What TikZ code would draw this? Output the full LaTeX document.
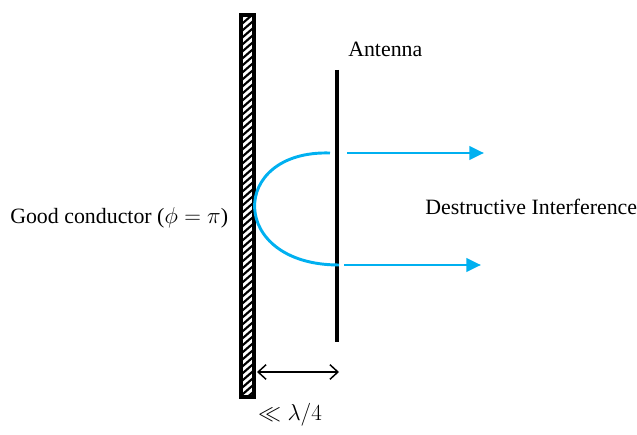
\documentclass[tikz,border=0pt]{standalone}
\usepackage{fontspec}
\setmainfont{Liberation Serif}
\usetikzlibrary{arrows.meta}
\definecolor{wave}{RGB}{0,176,240}
\tikzset{
  wavearrow/.style={wave,line width=2.2pt,-{Triangle[length=11pt,width=10pt]}},
  wavecurve/.style={wave,line width=2.2pt},
  lbl/.style={font=\fontsize{16.4}{19}\selectfont,inner sep=0pt}
}
\begin{document}
\begin{tikzpicture}[x=0.75pt,y=-0.75pt]
	\useasboundingbox (0,0) rectangle (637,435);
	% conductor plate with hatching
	\begin{scope}
		\clip (241,15) rectangle (254,397);
		\foreach \k in {0,7,...,400}
			\draw[line width=1.6pt] (236,22+\k) -- (259,2+\k);
	\end{scope}
	\draw[line width=2.6pt] (241,15) rectangle (254,397);
	% antenna
	\coordinate (antTop) at (337,70);
	\coordinate (antBot) at (337,342);
	\draw[line width=2.4pt] (antTop) -- (antBot);
	% waves
	\coordinate (upIn) at (330,153);
	\coordinate (loIn) at (339,265);
	\draw[wavecurve] (upIn) .. controls (228,150) and (228,265) .. (loIn);
	\coordinate (upS) at (347,153);
	\coordinate (upE) at (484,153);
	\coordinate (loS) at (344,265);
	\coordinate (loE) at (481,265);
	\draw[wavearrow] (upS) -- (upE);
	\draw[wavearrow] (loS) -- (loE);
	% spacing
	\coordinate (gapL) at (257,372);
	\coordinate (gapR) at (339,372);
	\draw[line width=1.1pt,{Straight Barb[length=6pt,width=11pt]}-{Straight Barb[length=6pt,width=11pt]}] (gapL) -- (gapR);
	% labels
	\node[lbl,anchor=base west] (antenna) at (348,57) {Antenna};
	\node[lbl,anchor=west] (destr) at (425,207) {Destructive Interference};
	\node[lbl,anchor=west] (cond) at (10,218) {Good conductor ($\phi=\pi$)};
	\node[lbl,font=\fontsize{19}{21}\selectfont] (dist) at (290,415) {$\ll\lambda/4$};
\end{tikzpicture}
\end{document}
